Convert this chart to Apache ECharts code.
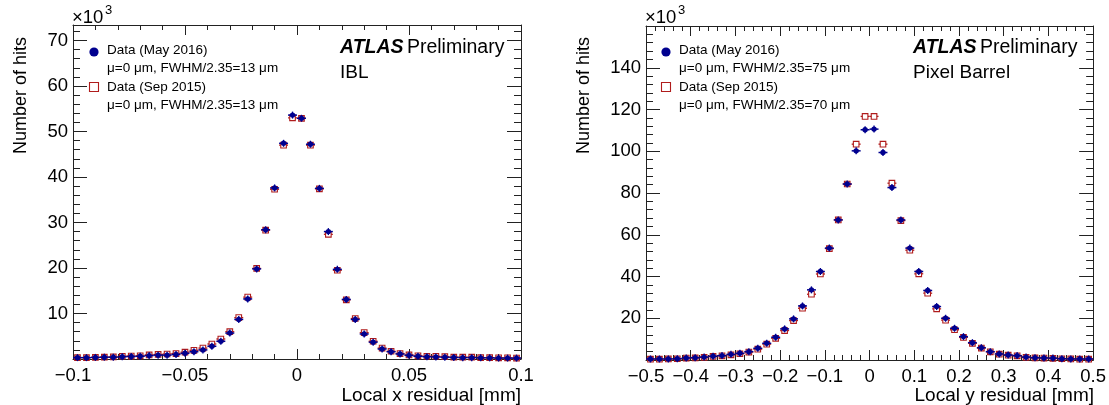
<!DOCTYPE html>
<html>
<head>
<meta charset="utf-8">
<script src="https://cdn.jsdelivr.net/npm/echarts@6/dist/echarts.min.js"></script>
<style>html,body{margin:0;padding:0;background:#fff;}#c{width:1109px;height:405px;}</style>
</head>
<body>
<div id="c"></div>
<script>
// ---------- DATA ----------
// IBL: local x residual bin centres [mm], bin width 0.004 mm
const iblX = [-0.098,-0.094,-0.090,-0.086,-0.082,-0.078,-0.074,-0.070,-0.066,-0.062,-0.058,-0.054,-0.050,-0.046,-0.042,-0.038,-0.034,-0.030,-0.026,-0.022,-0.018,-0.014,-0.010,-0.006,-0.002,
              0.002,0.006,0.010,0.014,0.018,0.022,0.026,0.030,0.034,0.038,0.042,0.046,0.050,0.054,0.058,0.062,0.066,0.070,0.074,0.078,0.082,0.086,0.090,0.094,0.098];
// hits (x10^3), Data May 2016
const iblMay2016 = [0.3,0.3,0.35,0.4,0.4,0.5,0.55,0.6,0.75,0.85,0.85,1.0,1.25,1.6,2.0,2.8,3.9,5.7,8.7,13.2,19.8,28.4,37.6,47.4,53.6,
                    52.9,47.2,37.5,28.0,19.7,13.1,8.7,5.5,3.7,2.2,1.6,1.1,0.8,0.6,0.5,0.45,0.4,0.35,0.3,0.3,0.25,0.25,0.2,0.2,0.2];
// hits (x10^3), Data Sep 2015
const iblSep2015 = [0.3,0.3,0.35,0.4,0.45,0.6,0.65,0.7,0.9,1.0,1.1,1.2,1.5,1.9,2.4,3.3,4.4,6.0,9.1,13.6,19.9,28.3,37.3,47.0,53.0,
                    52.9,47.0,37.4,27.4,19.5,13.0,8.9,5.8,3.9,2.4,1.7,1.2,0.9,0.7,0.6,0.6,0.5,0.4,0.4,0.4,0.3,0.3,0.25,0.25,0.2];
const iblBinWidth = 0.004;

// Pixel Barrel: local y residual bin centres [mm], bin width 0.02 mm
const pixX = [-0.49,-0.47,-0.45,-0.43,-0.41,-0.39,-0.37,-0.35,-0.33,-0.31,-0.29,-0.27,-0.25,-0.23,-0.21,-0.19,-0.17,-0.15,-0.13,-0.11,-0.09,-0.07,-0.05,-0.03,-0.01,
              0.01,0.03,0.05,0.07,0.09,0.11,0.13,0.15,0.17,0.19,0.21,0.23,0.25,0.27,0.29,0.31,0.33,0.35,0.37,0.39,0.41,0.43,0.45,0.47,0.49];
const pixMay2016 = [0.5,0.5,0.5,0.6,1.0,1.1,1.4,1.8,2.1,2.7,3.2,4.0,5.6,8.0,10.9,14.9,19.7,25.9,33.6,42.4,53.6,67.1,84.3,100.2,110.3,
                    110.6,99.4,82.6,67.1,53.6,42.4,33.3,25.6,20.0,15.2,11.2,8.3,5.9,4.0,2.9,2.4,2.1,1.4,1.1,1.0,0.9,0.6,0.5,0.5,0.5];
const pixSep2015 = [0.4,0.4,0.5,0.6,0.9,1.0,1.3,1.7,2.0,2.5,3.0,3.8,5.2,7.6,10.4,14.1,18.9,24.8,31.5,41.2,53.4,67.1,84.3,103.4,116.7,
                    116.7,103.4,84.7,66.8,52.6,41.3,32.0,24.5,19.1,14.5,10.8,8.0,5.7,3.9,2.8,2.3,2.0,1.3,1.0,0.9,0.8,0.6,0.5,0.4,0.4];
const pixBinWidth = 0.02;

// axis tick settings
const iblXTicks = {min:-0.1, max:0.1, major:0.05, minor:0.01};
const iblYTicks = {min:0, max:73.4, major:10, minor:2, labelMax:70};
const pixXTicks = {min:-0.5, max:0.5, major:0.1, minor:0.02};
const pixYTicks = {min:0, max:160, major:20, minor:4, labelMax:140};

const legendLabels = ['Data (May 2016)', 'Data (Sep 2015)'];
const iblLegendSub = ['\u03bc=0 \u03bcm, FWHM/2.35=13 \u03bcm', '\u03bc=0 \u03bcm, FWHM/2.35=13 \u03bcm'];
const pixLegendSub = ['\u03bc=0 \u03bcm, FWHM/2.35=75 \u03bcm', '\u03bc=0 \u03bcm, FWHM/2.35=70 \u03bcm'];

// ---------- STYLE ----------
const FONT = '"Liberation Sans", Arial, Helvetica, sans-serif';
const BLUE = '#00008f';
const RED = '#b01c1c';
const FRAME = '#222';

const chart = echarts.init(document.getElementById('c'), null, {renderer:'canvas'});

function fmtX(v){
  if (Math.abs(v) < 1e-9) return '0';
  const s = String(+v.toFixed(3));
  return s.replace('-', '\u2212');
}

function xAx(grid, pos, t, step, len, showLabel, showLine){
  return {
    type:'value', gridIndex:grid, position:pos, min:t.min, max:t.max, interval:step,
    splitLine:{show:false},
    axisLine:{show:showLine, onZero:false, lineStyle:{color:FRAME, width:1}},
    axisTick:{show:true, inside:true, length:len, lineStyle:{color:FRAME, width:1}},
    axisLabel:{show:showLabel, formatter:fmtX, fontSize:18.5, fontFamily:FONT, color:'#000', margin:7,
               showMinLabel:true, showMaxLabel:true}
  };
}
function yAx(grid, pos, t, step, len, showLabel, showLine){
  return {
    type:'value', gridIndex:grid, position:pos, min:t.min, max:t.max, interval:step,
    splitLine:{show:false},
    axisLine:{show:showLine, onZero:false, lineStyle:{color:FRAME, width:1}},
    axisTick:{show:true, inside:true, length:len, lineStyle:{color:FRAME, width:1}},
    axisLabel:{show:showLabel, fontSize:18.5, fontFamily:FONT, color:'#000', margin:5,
               formatter:function(v){ const r = Math.round(v); return (Math.abs(v-r)<1e-6 && r>0 && r<=t.labelMax && r % t.major===0) ? String(r) : ''; }}
  };
}

function dataSeries(xs, ys, binW, kind, color, xi, yi){
  return {
    type:'custom', xAxisIndex:xi, yAxisIndex:yi, silent:true, z: kind==='circle'?5:4,
    data: xs.map((x,i)=>[x, ys[i]]),
    renderItem: function(params, api){
      const p = api.coord([api.value(0), api.value(1)]);
      const hw = api.size([binW, 0])[0]/2;
      const ch = [];
      if (kind === 'square'){
        const s = 2.8;
        ch.push({type:'line', shape:{x1:p[0]-hw, y1:p[1], x2:p[0]-s, y2:p[1]}, style:{stroke:color, lineWidth:1.3}});
        ch.push({type:'line', shape:{x1:p[0]+s, y1:p[1], x2:p[0]+hw, y2:p[1]}, style:{stroke:color, lineWidth:1.3}});
        ch.push({type:'rect', shape:{x:p[0]-s, y:p[1]-s, width:2*s, height:2*s}, style:{fill:'rgba(255,255,255,0)', stroke:color, lineWidth:1.1}});
      } else {
        ch.push({type:'line', shape:{x1:p[0]-hw, y1:p[1], x2:p[0]+hw, y2:p[1]}, style:{stroke:color, lineWidth:1.5}});
        ch.push({type:'line', shape:{x1:p[0], y1:p[1]-3.5, x2:p[0], y2:p[1]+3.5}, style:{stroke:color, lineWidth:1.3}});
        ch.push({type:'circle', shape:{cx:p[0], cy:p[1], r:2.7}, style:{fill:color}});
      }
      return {type:'group', children:ch};
    }
  };
}

function txt(x, y, text, size, align){
  return {type:'text', x:x, y:y, silent:true,
    style:{text:text, font: size+'px '+FONT, fill:'#000', align: align||'left', verticalAlign:'middle'}};
}
function atlas(x, y){
  return {type:'text', x:x, y:y, silent:true, style:{
    text:'{a|ATLAS} {b|Preliminary}', verticalAlign:'middle', align:'left',
    rich:{a:{fontSize:19.5, fontFamily:FONT, fontWeight:'bold', fontStyle:'italic', fill:'#000'},
          b:{fontSize:19.5, fontFamily:FONT, fill:'#000'}}}};
}
function panelGraphics(o){
  const g = [];
  // x10^3
  g.push(txt(o.fx, 18, '\u00d710', 18.5));
  g.push(txt(o.fx+33, 10, '3', 13));
  // ATLAS label
  g.push(atlas(o.ax, 48));
  g.push(txt(o.ax, 73, o.sub, 19));
  // legend
  g.push({type:'circle', silent:true, shape:{cx:o.lx, cy:52, r:4.6}, style:{fill:BLUE}});
  g.push({type:'rect', silent:true, shape:{x:o.lx-4.5, y:82.5, width:9, height:9}, style:{fill:'#fff', stroke:RED, lineWidth:1.1}});
  g.push(txt(o.lx+13, 50, legendLabels[0], 13.5));
  g.push(txt(o.lx+13, 68, o.leg[0], 13.5));
  g.push(txt(o.lx+13, 87, legendLabels[1], 13.5));
  g.push(txt(o.lx+13, 105, o.leg[1], 13.5));
  // axis titles
  g.push(txt(o.xr, 396, o.xt, 19, 'right'));
  g.push({type:'text', x:o.yx, y:37, rotation:Math.PI/2, silent:true,
          style:{text:'Number of hits', font:'18px '+FONT, fill:'#000', align:'right', verticalAlign:'middle'}});
  return g;
}

const option = {
  animation:false,
  backgroundColor:'#fff',
  grid:[
    {left:73, top:25, width:448, height:334},
    {left:646, top:26, width:448, height:334}
  ],
  xAxis:[
    xAx(0,'bottom',iblXTicks,iblXTicks.major,10,true,true),
    xAx(0,'bottom',iblXTicks,iblXTicks.minor,5,false,false),
    xAx(0,'top',iblXTicks,iblXTicks.major,10,false,true),
    xAx(0,'top',iblXTicks,iblXTicks.minor,5,false,false),
    xAx(1,'bottom',pixXTicks,pixXTicks.major,10,true,true),
    xAx(1,'bottom',pixXTicks,pixXTicks.minor,5,false,false),
    xAx(1,'top',pixXTicks,pixXTicks.major,10,false,true),
    xAx(1,'top',pixXTicks,pixXTicks.minor,5,false,false)
  ],
  yAxis:[
    yAx(0,'left',iblYTicks,iblYTicks.major,14,true,true),
    yAx(0,'left',iblYTicks,iblYTicks.minor,7,false,false),
    yAx(0,'right',iblYTicks,iblYTicks.major,14,false,true),
    yAx(0,'right',iblYTicks,iblYTicks.minor,7,false,false),
    yAx(1,'left',pixYTicks,pixYTicks.major,14,true,true),
    yAx(1,'left',pixYTicks,pixYTicks.minor,7,false,false),
    yAx(1,'right',pixYTicks,pixYTicks.major,14,false,true),
    yAx(1,'right',pixYTicks,pixYTicks.minor,7,false,false)
  ],
  series:[
    dataSeries(iblX, iblSep2015, iblBinWidth, 'square', RED, 0, 0),
    dataSeries(iblX, iblMay2016, iblBinWidth, 'circle', BLUE, 0, 0),
    dataSeries(pixX, pixSep2015, pixBinWidth, 'square', RED, 4, 4),
    dataSeries(pixX, pixMay2016, pixBinWidth, 'circle', BLUE, 4, 4)
  ],
  graphic: [].concat(
    panelGraphics({fx:72, ax:340, sub:'IBL', lx:94, leg:iblLegendSub, xr:521, xt:'Local x residual [mm]', yx:21}),
    panelGraphics({fx:645, ax:913, sub:'Pixel Barrel', lx:666, leg:pixLegendSub, xr:1094, xt:'Local y residual [mm]', yx:584})
  )
};
chart.setOption(option);
</script>
</body>
</html>
